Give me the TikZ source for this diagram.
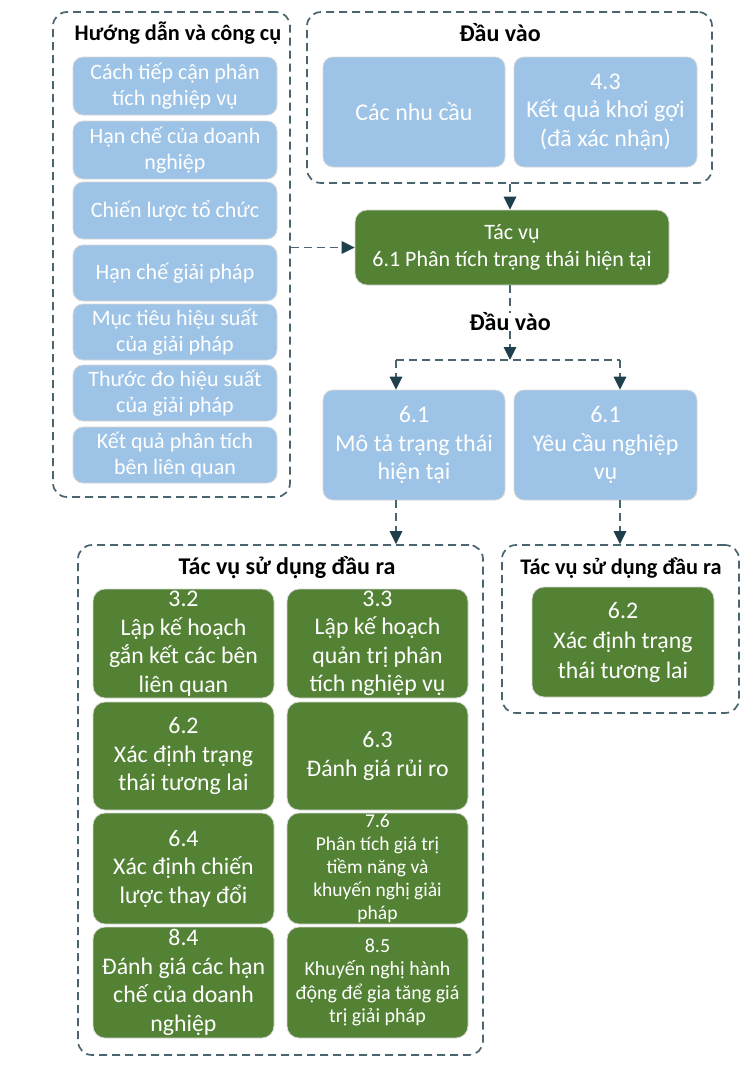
\documentclass[tikz,border=0pt]{standalone}
\usepackage{fontspec}
\setmainfont{Carlito}
\usetikzlibrary{arrows.meta}
\definecolor{lblue}{HTML}{9DC3E6}
\definecolor{dgreen}{HTML}{548235}
\definecolor{dashc}{HTML}{4A6470}
\definecolor{arrc}{HTML}{1E3F4C}
\tikzset{
 box/.style={rounded corners=10pt, draw=black!15, line width=0.8pt, text=white, align=center, inner sep=0pt},
 bluebox/.style={box, fill=lblue},
 greenbox/.style={box, fill=dgreen, rounded corners=12pt},
 panel/.style={draw=dashc, dash pattern=on 8pt off 5pt, line width=1.7pt, rounded corners=14pt, inner sep=0pt},
 ptitle/.style={font=\bfseries\fontsize{24}{28}\selectfont, text=black, inner sep=0pt},
 conn/.style={draw=dashc, dash pattern=on 8pt off 5pt, line width=1.7pt},
 arr/.style={conn, -{Triangle[length=13pt,width=12.5pt,color=arrc]}},
 fa/.style={font=\fontsize{22}{25.5}\selectfont},
 fb/.style={font=\fontsize{24}{28.5}\selectfont},
 fg/.style={font=\fontsize{23.8}{28.5}\selectfont},
 fc/.style={font=\fontsize{20}{23.5}\selectfont},
 fd/.style={font=\fontsize{19.5}{23}\selectfont},
}
\newcommand\mybox[7]{\node[#1, minimum width={(#4-#2)*1pt}, minimum height={(#5-#3)*1pt}] (#6) at ({(#2+#4)/2},{(#3+#5)/2}) {#7};}
\begin{document}
\begin{tikzpicture}[x=1pt,y=-1pt]
\fill[white] (0,0) rectangle (746,1069);
\useasboundingbox (0,0) rectangle (746,1069);
% panels
\mybox{panel}{53}{12}{290}{497}{pl}{}
\node[ptitle,font=\bfseries\fontsize{22.3}{26}\selectfont] (plt) at (178,33) {Hướng dẫn và công cụ};
\mybox{panel}{307}{12}{712}{183}{pi}{}
\node[ptitle] (pit) at (500,33) {Đầu vào};
\mybox{panel}{78}{545}{483}{1055}{po}{}
\node[ptitle] (pot) at (287,568) {Tác vụ sử dụng đầu ra};
\mybox{panel}{502}{545}{739}{713}{pr}{}
\node[ptitle,font=\bfseries\fontsize{22.3}{26}\selectfont] (prt) at (621,568) {Tác vụ sử dụng đầu ra};
% left guide boxes
\mybox{bluebox,fa}{73}{57}{277}{115}{g1}{Cách tiếp cận phân\\tích nghiệp vụ}
\mybox{bluebox,fa}{73}{121}{277}{179}{g2}{Hạn chế của doanh\\nghiệp}
\mybox{bluebox,fa}{73}{182}{277}{239}{g3}{Chiến lược tổ chức}
\mybox{bluebox,fa}{73}{245}{277}{301}{g4}{Hạn chế giải pháp}
\mybox{bluebox,fa}{73}{304}{277}{360}{g5}{Mục tiêu hiệu suất\\của giải pháp}
\mybox{bluebox,fa}{73}{365}{277}{421}{g6}{Thước đo hiệu suất\\của giải pháp}
\mybox{bluebox,fa}{73}{427}{277}{483}{g7}{Kết quả phân tích\\bên liên quan}
% inputs
\mybox{bluebox,fb}{323}{57}{505}{167}{i1}{Các nhu cầu}
\mybox{bluebox,fb}{514}{57}{697}{167}{i2}{4.3\\Kết quả khơi gợi\\(đã xác nhận)}
% task
\mybox{greenbox,font=\fontsize{22}{27}\selectfont}{355}{210}{669}{285}{task}{Tác vụ\\6.1 Phân tích trạng thái hiện tại}
\node[ptitle] (lbl) at (510,322) {Đầu vào};
% outputs
\mybox{bluebox,fb}{323}{390}{505}{500}{o1}{6.1\\Mô tả trạng thái\\hiện tại}
\mybox{bluebox,fb}{514}{390}{697}{500}{o2}{6.1\\Yêu cầu nghiệp\\vụ}
% consumer tasks
\mybox{greenbox,fg}{93}{589}{274}{698}{c1}{3.2\\Lập kế hoạch\\gắn kết các bên\\liên quan}
\mybox{greenbox,fg}{287}{589}{468}{698}{c2}{3.3\\Lập kế hoạch\\quản trị phân\\tích nghiệp vụ}
\mybox{greenbox,fg}{93}{702}{274}{810}{c3}{6.2\\Xác định trạng\\thái tương lai}
\mybox{greenbox,fg}{287}{702}{468}{810}{c4}{6.3\\Đánh giá rủi ro}
\mybox{greenbox,fg}{93}{813}{274}{924}{c5}{6.4\\Xác định chiến\\lược thay đổi}
\mybox{greenbox,fd}{287}{813}{468}{924}{c6}{7.6\\Phân tích giá trị\\tiềm năng và\\khuyến nghị giải\\pháp}
\mybox{greenbox,fg}{93}{927}{274}{1038}{c7}{8.4\\Đánh giá các hạn\\chế của doanh\\nghiệp}
\mybox{greenbox,fc}{287}{927}{468}{1038}{c8}{8.5\\Khuyến nghị hành\\động để gia tăng giá\\trị giải pháp}
\mybox{greenbox,font=\fontsize{23.8}{30}\selectfont}{532}{587}{714}{697}{r1}{6.2\\Xác định trạng\\thái tương lai}
% connectors
\coordinate (jn) at (510,360);
\coordinate (jl) at (396,360);
\coordinate (jr) at (620,360);
\draw[arr] (pl.east |- task.west) -- (task.west);
\draw[arr] (pi.south -| lbl) -- (task.north -| lbl);
\draw[conn] (task.south -| lbl) -- (lbl.north);
\draw[arr] (lbl.south) -- (jn);
\draw[conn] (jl) -- (jr);
\draw[arr] (jl) -- (jl |- o1.north);
\draw[arr] (jr) -- (jr |- o2.north);
\draw[arr] (jl |- o1.south) -- (jl |- po.north);
\draw[arr] (jr |- o2.south) -- (jr |- pr.north);
\end{tikzpicture}
\end{document}
